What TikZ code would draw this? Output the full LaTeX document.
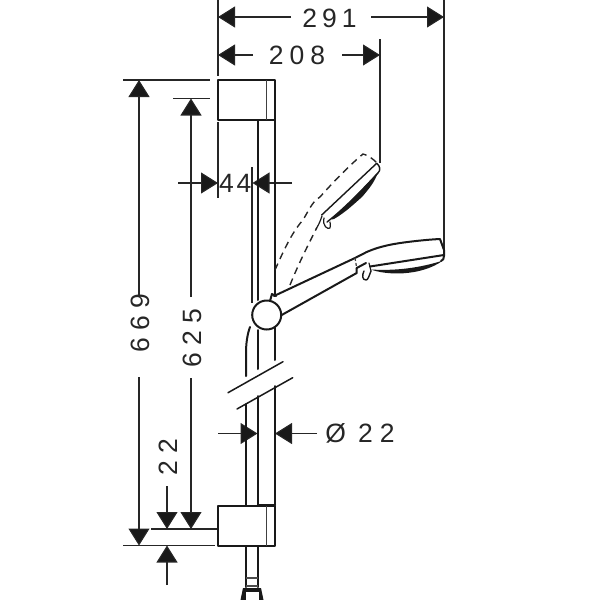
\documentclass[tikz,border=0pt]{standalone}
\usepackage{fontspec}
\setmainfont{Liberation Sans}
\usetikzlibrary{arrows.meta}
\tikzset{
  dimline/.style={line width=1.1pt,draw=black!85,-{Triangle[length=17pt,width=21pt,fill=black!90]}},
  extline/.style={line width=1.1pt,draw=black!85},
  body/.style={line width=2pt,draw=black!90,line cap=round,line join=round},
  thin body/.style={line width=1.2pt,draw=black!75},
  hidden/.style={line width=1.4pt,draw=black!85,dash pattern=on 7pt off 5pt},
  dimtext/.style={font=\fontsize{26.5}{26.5}\selectfont,inner sep=0pt,text=black!85}
}
\begin{document}
\begin{tikzpicture}[x=1pt,y=-1pt]
\useasboundingbox (0,0) rectangle (600,600);
% named points of dimension lines
\coordinate (a1) at (291,17); \coordinate (a1t) at (218,17);
\coordinate (a2) at (371,17); \coordinate (a2t) at (444,17);
\coordinate (b1) at (253,55); \coordinate (b1t) at (218,55);
\coordinate (b2) at (342,55); \coordinate (b2t) at (380,55);
\coordinate (c1) at (178,183); \coordinate (c1t) at (218,183);
\coordinate (c2) at (292,183); \coordinate (c2t) at (252.5,183);
\coordinate (d1) at (139,297); \coordinate (d1t) at (139,80);
\coordinate (d2) at (139,377); \coordinate (d2t) at (139,545.5);
\coordinate (e1) at (191,297); \coordinate (e1t) at (191,98.5);
\coordinate (e2) at (191,378); \coordinate (e2t) at (191,529);
\coordinate (f1) at (167,486); \coordinate (f1t) at (167,529);
\coordinate (f2) at (167,585); \coordinate (f2t) at (167,545.5);
\coordinate (g1) at (218,433.5); \coordinate (g1t) at (257.5,433.5);
\coordinate (g2) at (317,433.5); \coordinate (g2t) at (275,433.5);
% extension lines
\draw[extline] (218,0) -- (218,76);
\draw[extline] (444,0) -- (444,253);
\draw[extline] (380,39) -- (380,163);
\draw[extline] (123,80) -- (210,80);
\draw[extline] (173,98.5) -- (210,98.5);
\draw[extline] (218,122) -- (218,198);
\draw[extline] (252,167) -- (252,303);
\draw[extline] (151,529) -- (217,529);
\draw[extline] (123,545.5) -- (215,545.5);
% dimension arrows
\foreach \p in {a1,a2,b1,b2,c1,c2,d1,d2,e1,e2,f1,f2,g1,g2}
  \draw[dimline] (\p) -- (\p t);
% labels
\node[dimtext] (t291) at (329.5,18) {2\kern5pt 9\kern5pt 1};
\node[dimtext] (t208) at (297,55) {2\kern6pt 0\kern6pt 8};
\node[dimtext] (t44a) at (226.5,183) {4};
\node[dimtext] (t44b) at (244,183) {4};
\node[dimtext,rotate=90] (t669) at (140,323) {6\kern7pt 6\kern7pt 9};
\node[dimtext,rotate=90] (t625) at (192,338) {6\kern7pt 2\kern7pt 5};
\node[dimtext,rotate=90] (t22) at (168,457) {2\kern7pt 2};
\node[dimtext] (tdia) at (360,433.5) {Ø\kern12pt 2\kern7pt 2};
% top box
\draw[body] (218,80) rectangle (274.7,119.5);
\draw[thin body] (266.7,80) -- (266.7,119.5);
% rail
\draw[body] (258,120) -- (258,300);
\draw[body] (274.7,120) -- (274.7,295);
\draw[body] (258,330) -- (258,369);
\draw[body] (274.7,326) -- (274.7,360);
\draw[body] (258,396) -- (258,505);
\draw[body] (274.7,386) -- (274.7,505);
% hose
\draw[body] (250,327) .. controls (247,335) and (246,345) .. (246,353) -- (246,376);
\draw[body] (246,404) -- (246,505);
% break marks
\draw[body,line width=1.5pt] (228,392.7) -- (283,361.7);
\draw[body,line width=1.5pt] (237,409) -- (292.7,377.7);
% bottom box
\draw[body] (217.5,506) rectangle (275,545.7);
\draw[thin body] (266.7,506) -- (266.7,545.7);
\draw[body,line width=2.4pt] (258,505) -- (275,505);
% lower hose
\draw[body] (246,546) -- (246,587);
\draw[body] (257.7,546) -- (257.7,587);
\draw[line width=1.2pt,draw=black!70] (246,578) -- (257.7,578);
\draw[line width=1.2pt,draw=black!70] (246,586) -- (257.7,586);
\fill[black!90] (243,588) -- (261,588) -- (263.5,600) -- (240.5,600) -- cycle;
\fill[white] (245.5,592) rectangle (258.5,600);
% hidden (tilted) position
\draw[hidden] (275,270) .. controls (283,252) and (292,232) .. (303,220) .. controls (310,208) and (313,201) .. (320,197) .. controls (335,180) and (350,165) .. (363,154) .. controls (368,155) and (373,159) .. (377,163);
\draw[hidden] (290,285) .. controls (298,265) and (308,245) .. (316.7,228);
\draw[body,line width=1.4pt] (321.7,215) -- (376.7,163.3) .. controls (380,166) and (381,170) .. (378,173) .. controls (362,190) and (345,208) .. (327,222);
\fill[black!90] (378,172) .. controls (366,185) and (350,203) .. (333,217) .. controls (331,219) and (331,220) .. (334,219) .. controls (346,212) and (355,203) .. (362,197) .. controls (368,190) and (375,182) .. (378,172) -- cycle;
\draw[body,line width=1.2pt] (322,216) .. controls (320,222) and (318,226) .. (316,229);
\draw[body,line width=1.2pt] (324,218) .. controls (322,226) and (328,230) .. (330,228) .. controls (331,226) and (330,224) .. (330,222);
% handle
\draw[body] (274,296) -- (355,258) -- (366.7,252) .. controls (380,246) and (395,243.5) .. (410,241.7) .. controls (420,240.5) and (430,239.5) .. (440,239) -- (444,250) -- (444,256) .. controls (444,259) and (443,260) .. (441,261);
\draw[body] (281.7,315) -- (356.7,273) -- (356.7,268);
\draw[thin body,densely dashed] (355,258) -- (356.7,268);
\draw[body] (356.7,268) -- (366,263);
\draw[body] (370,266.5) -- (444,255);
\draw[body,line width=1.2pt] (369,263) -- (371,271);
\draw[body,line width=1.4pt] (364,271) .. controls (362,275) and (362,280) .. (366,280) .. controls (368,280) and (369,276) .. (371,271);
\fill[black!90] (371,269.5) .. controls (385,275) and (420,277) .. (443,260.5) .. controls (420,268) and (395,271) .. (371,269.5) -- cycle;
% mount
\draw[body] (270,301) -- (272,294) -- (276,296);
\draw[body,fill=white] (266.7,315) circle[radius=14.5];
\end{tikzpicture}
\end{document}
